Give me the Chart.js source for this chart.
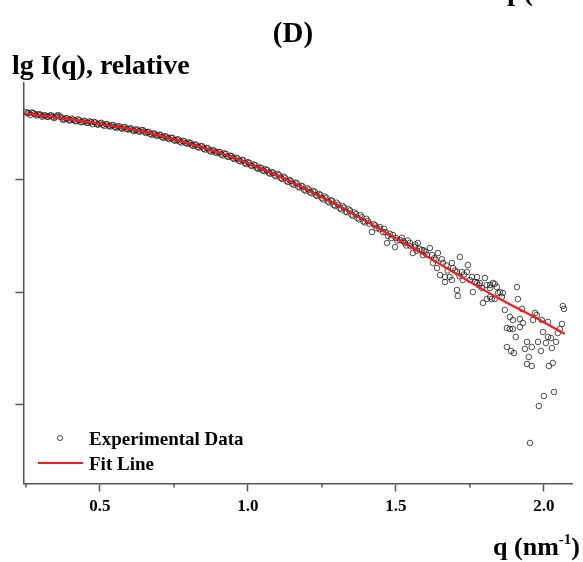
<!DOCTYPE html>
<html>
<head>
<meta charset="utf-8">
<script src="https://cdn.jsdelivr.net/npm/chart.js@4/dist/chart.umd.min.js"></script>
<style>
  body { margin: 0; background: #fff; }
  canvas { display: block; }
</style>
</head>
<body>
<canvas id="grafica" width="583" height="562"></canvas>
<script>
// ticks de los ejes (el eje y no lleva numeros)
var xTicks = [0.5, 1.0, 1.5, 2.0];
var xMenores = [0.25, 0.75, 1.25, 1.75];
var yTicks = [1, 2, 3];

// curva ajustada
var qFit = [0.247, 0.35, 0.5, 0.65, 0.8, 0.95, 1.1, 1.25, 1.4, 1.55, 1.7, 1.85, 2.0, 2.071];
var iFit = [3.58, 3.545, 3.487, 3.418, 3.315, 3.19, 3.03, 2.84, 2.625, 2.40, 2.167, 1.94, 1.733, 1.628];

// datos experimentales (q, lg I)
var qExp = [
  0.25, 0.26, 0.27, 0.28, 0.29, 0.30, 0.31, 0.32, 0.33, 0.34, 0.35, 0.36, 0.37, 0.38, 0.39,
  0.40, 0.41, 0.42, 0.43, 0.44, 0.45, 0.46, 0.47, 0.48, 0.49, 0.50, 0.51, 0.52, 0.53, 0.54,
  0.55, 0.56, 0.57, 0.58, 0.59, 0.60, 0.61, 0.62, 0.63, 0.64, 0.65, 0.66, 0.67, 0.68, 0.69,
  0.70, 0.71, 0.72, 0.73, 0.74, 0.75, 0.76, 0.77, 0.78, 0.79, 0.80, 0.81, 0.82, 0.83, 0.84,
  0.85, 0.86, 0.87, 0.88, 0.89, 0.90, 0.91, 0.92, 0.93, 0.94, 0.95, 0.96, 0.97, 0.98, 0.99,
  1.00, 1.01, 1.02, 1.03, 1.04, 1.05, 1.06, 1.07, 1.08, 1.09, 1.10, 1.11, 1.12, 1.13, 1.14,
  1.15, 1.16, 1.17, 1.18, 1.19, 1.20, 1.21, 1.22, 1.23, 1.24, 1.25, 1.26, 1.27, 1.28, 1.29,
  1.30, 1.31, 1.32, 1.33, 1.34, 1.35, 1.36, 1.37, 1.38, 1.39, 1.40,
  1.41, 1.419, 1.43, 1.446, 1.456, 1.46, 1.470, 1.473, 1.48, 1.490, 1.497, 1.50, 1.514, 1.52,
  1.530, 1.54, 1.547, 1.557, 1.564, 1.574, 1.58, 1.588, 1.591, 1.60, 1.615, 1.622, 1.625,
  1.639, 1.642, 1.649, 1.659, 1.666, 1.666, 1.682, 1.689, 1.689, 1.693, 1.706, 1.706, 1.709,
  1.716, 1.723, 1.726, 1.740, 1.743, 1.757, 1.760, 1.767, 1.774, 1.774, 1.784, 1.791, 1.794,
  1.801, 1.807, 1.807, 1.818, 1.818, 1.818, 1.824, 1.828, 1.834, 1.834, 1.841, 1.845, 1.851,
  1.858, 1.861, 1.868, 1.875, 1.875, 1.885, 1.885, 1.889, 1.895, 1.895, 1.899, 1.905, 1.909,
  1.912, 1.919, 1.919, 1.926, 1.929, 1.936, 1.943, 1.943, 1.949, 1.953, 1.959, 1.959, 1.963,
  1.970, 1.976, 1.980, 1.983, 1.990, 1.993, 1.997, 2.000, 2.007, 2.014, 2.014, 2.017, 2.024,
  2.027, 2.030, 2.034, 2.041, 2.047, 2.054, 2.061, 2.064, 2.068
];
var iExp = [
  3.592, 3.585, 3.590, 3.574, 3.571, 3.566, 3.562, 3.552, 3.560, 3.551, 3.552, 3.566, 3.545, 3.528, 3.536,
  3.520, 3.526, 3.512, 3.522, 3.505, 3.511, 3.498, 3.503, 3.506, 3.484, 3.493, 3.480, 3.487, 3.470, 3.476,
  3.461, 3.466, 3.452, 3.458, 3.443, 3.447, 3.431, 3.438, 3.422, 3.433, 3.420, 3.415, 3.399, 3.403, 3.386,
  3.392, 3.372, 3.378, 3.360, 3.365, 3.344, 3.350, 3.331, 3.338, 3.318, 3.323, 3.302, 3.306, 3.284, 3.291,
  3.268, 3.276, 3.251, 3.255, 3.236, 3.241, 3.218, 3.227, 3.200, 3.206, 3.184, 3.188, 3.162, 3.170, 3.141,
  3.150, 3.120, 3.128, 3.096, 3.102, 3.076, 3.086, 3.055, 3.062, 3.033, 3.045, 3.010, 3.020, 2.984, 2.992,
  2.958, 2.968, 2.932, 2.940, 2.905, 2.918, 2.882, 2.895, 2.856, 2.868, 2.830, 2.845, 2.800, 2.812, 2.770,
  2.790, 2.742, 2.760, 2.712, 2.732, 2.685, 2.705, 2.655, 2.680, 2.625, 2.648,
  2.605, 2.531, 2.590, 2.575, 2.531, 2.560, 2.434, 2.496, 2.515, 2.504, 2.398, 2.478, 2.460, 2.480,
  2.434, 2.455, 2.434, 2.345, 2.398, 2.434, 2.380, 2.372, 2.327, 2.355, 2.389, 2.327, 2.257,
  2.212, 2.345, 2.150, 2.257, 2.133, 2.088, 2.133, 2.257, 2.106, 2.212, 2.177, 2.018, 1.965,
  2.310, 2.177, 2.106, 2.177, 2.239, 2.133, 2.000, 2.088, 2.133, 2.080, 2.080, 2.035, 1.903,
  2.124, 2.062, 1.938, 2.035, 1.956, 2.062, 1.938, 2.080, 1.938, 2.071, 2.044, 1.991, 2.000,
  1.956, 1.991, 1.841, 1.681, 1.513, 1.779, 1.673, 1.478, 1.752, 1.673, 1.460, 1.602, 2.044,
  1.938, 1.761, 1.690, 1.850, 1.726, 1.496, 1.558, 1.363, 1.425, 0.664, 1.513, 1.345, 1.752,
  1.814, 1.796, 1.558, 0.991, 1.478, 1.752, 1.646, 1.080, 1.549, 1.735, 1.602, 1.345, 1.593,
  1.504, 1.372, 1.115, 1.558, 1.637, 1.673, 1.717, 1.876, 1.850
];

// puntos intermedios de la banda densa
var qExpMedio = [
  0.255, 0.265, 0.275, 0.285, 0.295, 0.305, 0.315, 0.325, 0.335, 0.345, 0.355, 0.365, 0.375, 0.385, 0.395,
  0.405, 0.415, 0.425, 0.435, 0.445, 0.455, 0.465, 0.475, 0.485, 0.495, 0.505, 0.515, 0.525, 0.535, 0.545,
  0.555, 0.565, 0.575, 0.585, 0.595, 0.605, 0.615, 0.625, 0.635, 0.645, 0.655, 0.665, 0.675, 0.685, 0.695,
  0.705, 0.715, 0.725, 0.735, 0.745, 0.755, 0.765, 0.775, 0.785, 0.795, 0.805, 0.815, 0.825, 0.835, 0.845,
  0.855, 0.865, 0.875, 0.885, 0.895, 0.905, 0.915, 0.925, 0.935, 0.945, 0.955, 0.965, 0.975, 0.985, 0.995,
  1.005, 1.015, 1.025, 1.035, 1.045, 1.055, 1.065, 1.075, 1.085, 1.095, 1.105, 1.115, 1.125, 1.135, 1.145,
  1.155, 1.165, 1.175, 1.185, 1.195, 1.205, 1.215, 1.225, 1.235, 1.245, 1.255, 1.265, 1.275, 1.285, 1.295,
  1.305, 1.315, 1.325, 1.335, 1.345, 1.355, 1.365, 1.375, 1.385, 1.395,
  1.405, 1.425, 1.435, 1.445, 1.465, 1.485, 1.505, 1.525, 1.535, 1.55, 1.565, 1.57, 1.595, 1.605,
  1.63, 1.635, 1.655, 1.67, 1.675, 1.70, 1.715, 1.73, 1.75, 1.78
];
var iExpMedio = [
  3.582, 3.567, 3.584, 3.562, 3.575, 3.551, 3.564, 3.550, 3.565, 3.539, 3.561, 3.551, 3.525, 3.538, 3.520,
  3.534, 3.514, 3.528, 3.502, 3.516, 3.498, 3.510, 3.485, 3.499, 3.481, 3.497, 3.470, 3.484, 3.465, 3.477,
  3.452, 3.466, 3.445, 3.460, 3.438, 3.449, 3.425, 3.438, 3.419, 3.433, 3.407, 3.418, 3.391, 3.402, 3.382,
  3.391, 3.364, 3.375, 3.352, 3.365, 3.338, 3.350, 3.323, 3.334, 3.313, 3.321, 3.293, 3.302, 3.278, 3.290,
  3.261, 3.271, 3.243, 3.252, 3.230, 3.238, 3.209, 3.223, 3.195, 3.204, 3.175, 3.182, 3.156, 3.165, 3.132,
  3.142, 3.113, 3.122, 3.090, 3.099, 3.070, 3.080, 3.047, 3.056, 3.024, 3.036, 3.001, 3.013, 2.974, 2.983,
  2.949, 2.962, 2.925, 2.935, 2.896, 2.907, 2.873, 2.888, 2.849, 2.859, 2.819, 2.833, 2.792, 2.806, 2.762,
  2.773, 2.731, 2.747, 2.706, 2.722, 2.676, 2.691, 2.643, 2.661, 2.616,
  2.628, 2.600, 2.565, 2.556, 2.530, 2.478, 2.455, 2.450, 2.412, 2.405, 2.420, 2.365, 2.368, 2.330,
  2.300, 2.285, 2.290, 2.235, 2.190, 2.190, 2.140, 2.155, 2.105, 2.060
];

var fuente = '"Liberation Serif", "Times New Roman", serif';

var puntosExp = qExp.concat(qExpMedio).map(function(q, i) {
  var valores = iExp.concat(iExpMedio);
  return {x: q, y: valores[i]};
});
var puntosFit = qFit.map(function(q, i) { return {x: q, y: iFit[i]}; });

// textos, leyenda y ticks menores dibujados a mano
var textos = {
  id: 'textos',
  afterDraw: function(chart) {
    var ctx = chart.ctx;
    var ejeX = chart.scales.x;
    ctx.save();

    // ticks menores del eje x
    ctx.strokeStyle = '#555';
    ctx.lineWidth = 1.5;
    xMenores.forEach(function(v) {
      var px = ejeX.getPixelForValue(v);
      ctx.beginPath();
      ctx.moveTo(px, ejeX.top);
      ctx.lineTo(px, ejeX.top + 4);
      ctx.stroke();
    });

    ctx.fillStyle = '#000';
    ctx.textBaseline = 'alphabetic';
    ctx.font = 'bold 29px ' + fuente;
    ctx.textAlign = 'center';
    ctx.fillText('(D)', 293, 42);
    ctx.textAlign = 'left';
    ctx.fillText('p(', 507, 0);

    ctx.font = 'bold 28px ' + fuente;
    ctx.fillText('lg I(q), relative', 12, 74);

    // titulo eje x con superindice
    var parte1 = 'q (nm', sup = '-1', parte2 = ')';
    ctx.font = 'bold 26px ' + fuente;
    var w1 = ctx.measureText(parte1).width;
    var w3 = ctx.measureText(parte2).width;
    ctx.font = 'bold 15px ' + fuente;
    var w2 = ctx.measureText(sup).width;
    var x0 = 580 - (w1 + w2 + w3);
    ctx.font = 'bold 26px ' + fuente;
    ctx.fillText(parte1, x0, 555);
    ctx.fillText(parte2, x0 + w1 + w2, 555);
    ctx.font = 'bold 15px ' + fuente;
    ctx.fillText(sup, x0 + w1, 544);

    // leyenda
    ctx.strokeStyle = 'rgba(40,40,40,0.85)';
    ctx.lineWidth = 1;
    ctx.beginPath();
    ctx.arc(60, 438, 2.5, 0, Math.PI * 2);
    ctx.stroke();
    ctx.strokeStyle = '#ff1a1a';
    ctx.lineWidth = 2;
    ctx.beginPath();
    ctx.moveTo(38, 463);
    ctx.lineTo(83, 463);
    ctx.stroke();
    ctx.font = 'bold 19px ' + fuente;
    ctx.fillText('Experimental Data', 89, 445);
    ctx.fillText('Fit Line', 89, 470);

    ctx.restore();
  }
};

var canvas = document.getElementById('grafica').getContext('2d');

var grafica = new Chart(canvas, {
  type: 'scatter',
  data: {
    datasets: [{
      label: 'Fit Line',
      data: puntosFit,
      showLine: true,
      borderColor: '#ff1a1a',
      borderWidth: 2.2,
      pointRadius: 0,
      cubicInterpolationMode: 'monotone'
    }, {
      label: 'Experimental Data',
      data: puntosExp,
      pointStyle: 'circle',
      pointRadius: 2.8,
      borderWidth: 1,
      borderColor: 'rgba(35,35,35,0.8)',
      backgroundColor: 'rgba(255,255,255,0)'
    }]
  },
  options: {
    responsive: false,
    animation: false,
    layout: {
      padding: {left: 15.5, right: 11, top: 83, bottom: 0}
    },
    plugins: {
      legend: {display: false},
      tooltip: {enabled: false},
      title: {display: false}
    },
    scales: {
      x: {
        type: 'linear',
        min: 0.2416,
        max: 2.095,
        afterBuildTicks: function(eje) {
          eje.ticks = xTicks.map(function(v) { return {value: v}; });
        },
        afterFit: function(eje) { eje.height = 78.5; },
        ticks: {
          color: '#000',
          padding: 5,
          maxRotation: 0,
          font: {family: fuente, size: 17, weight: 'bold'},
          callback: function(v) { return Number(v).toFixed(1); }
        },
        grid: {display: true, drawOnChartArea: false, drawTicks: true, tickLength: 8, tickColor: '#555', tickWidth: 1.5},
        border: {display: true, color: '#555', width: 1.5}
      },
      y: {
        type: 'linear',
        min: 0.305,
        max: 3.85,
        afterBuildTicks: function(eje) {
          eje.ticks = yTicks.map(function(v) { return {value: v}; });
        },
        afterFit: function(eje) { eje.width = 8; },
        ticks: {display: false},
        grid: {display: true, drawOnChartArea: false, drawTicks: true, tickLength: 8, tickColor: '#555', tickWidth: 1.5},
        border: {display: true, color: '#555', width: 1.5}
      }
    }
  },
  plugins: [textos]
});
</script>
</body>
</html>
